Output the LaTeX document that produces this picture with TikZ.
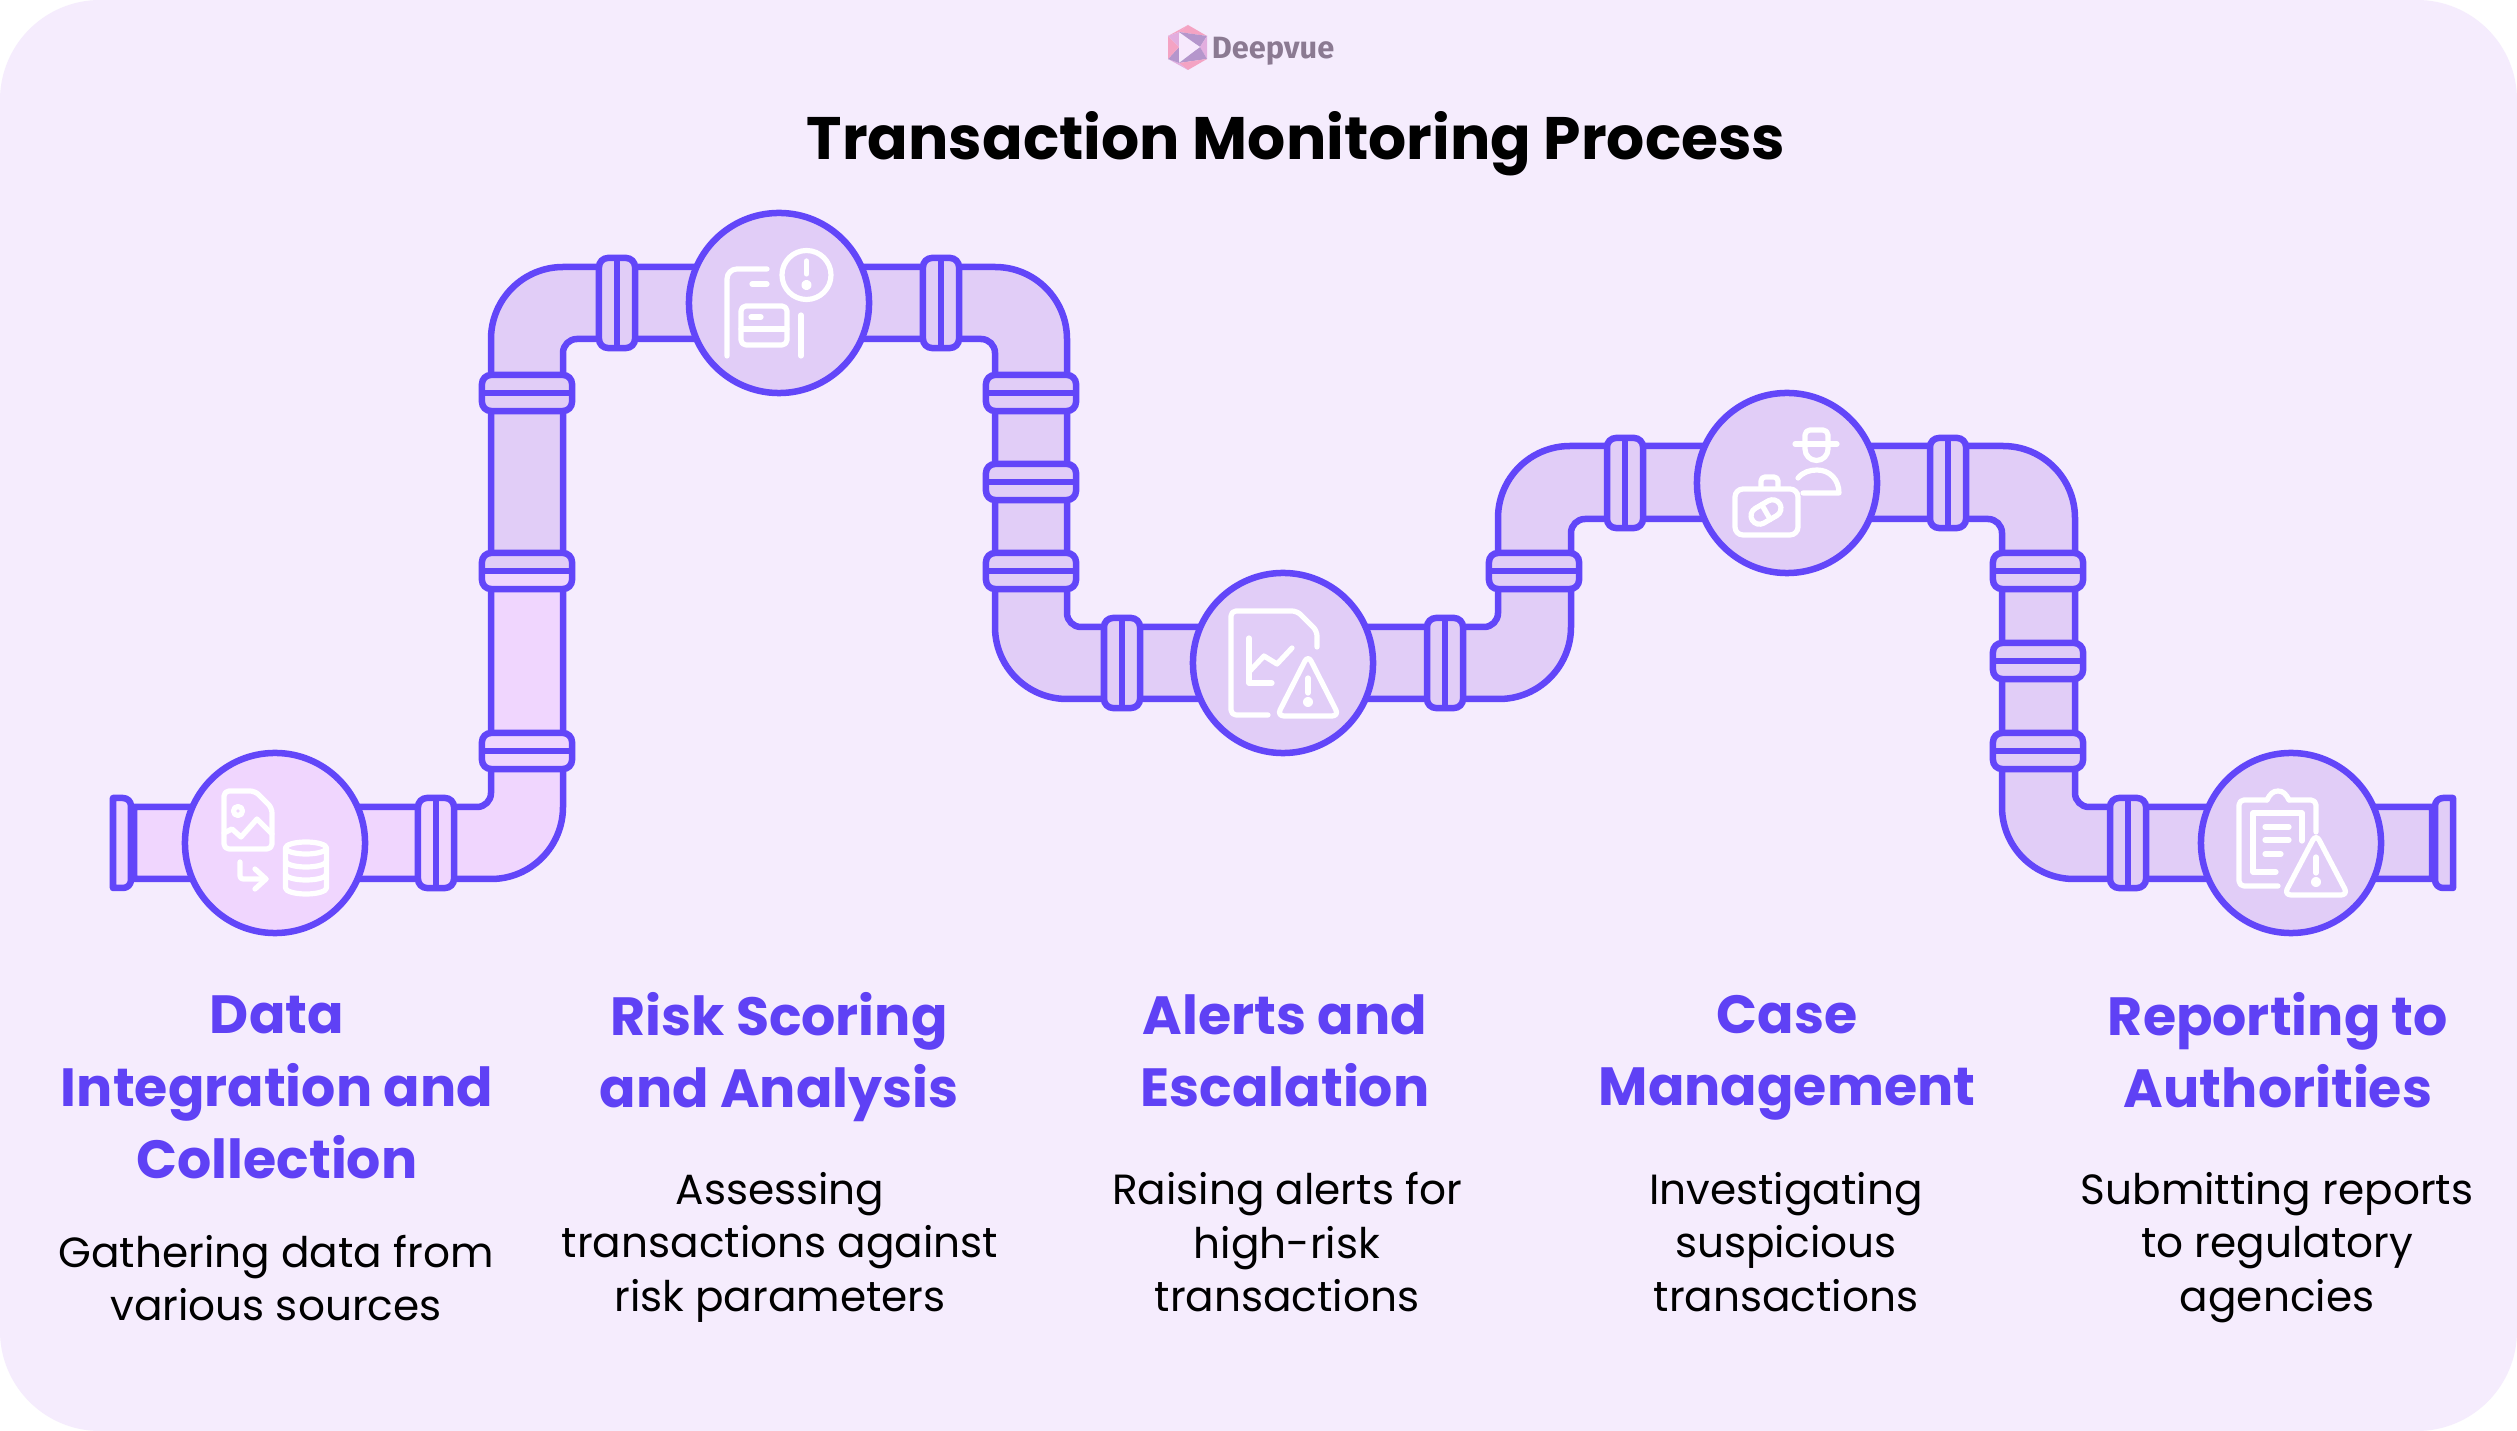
\documentclass[tikz,border=0pt]{standalone}
\usepackage{fontspec}
\setmainfont{Poppins}
\newfontfamily\logofont{Fira Sans}
\definecolor{cardbg}{HTML}{F5ECFD}
\definecolor{pipeline}{HTML}{6246F9}
\definecolor{pipefill}{HTML}{E1CDF7}
\definecolor{pipepink}{HTML}{F0D6FE}
\definecolor{headblue}{HTML}{5F41F5}
\definecolor{logogrey}{HTML}{8B7A92}
\definecolor{logopink}{HTML}{F4A3C3}
\definecolor{logolila}{HTML}{E2AEDF}
\definecolor{logopurple}{HTML}{B596CC}
\definecolor{logopale}{HTML}{F7E9FD}
\tikzset{
  flange/.style={rectangle,rounded corners=0.09cm,draw=pipeline,fill=pipefill,line width=0.065cm,inner sep=0pt,outer sep=0pt},
  flangeh/.style={flange,minimum width=0.36cm,minimum height=0.9cm},
  flangev/.style={flange,minimum width=0.9cm,minimum height=0.36cm},
  flangeline/.style={draw=pipeline,line width=0.065cm},
  valve/.style={circle,draw=pipeline,fill=pipefill,line width=0.065cm,minimum size=1.8cm,inner sep=0pt,outer sep=0pt},
  icon/.style={draw=white,line width=0.052cm,line cap=round,line join=round},
  heading/.style={align=center,text=headblue,font=\fontsize{15.3}{20.5}\selectfont\bfseries,execute at begin node=\strut,execute at end node=\strut},
  body/.style={align=center,text=black,font=\fontsize{12}{15.3}\selectfont,execute at begin node=\strut,execute at end node=\strut},
}
% outline of the whole pipe, upper edge first
\newcommand{\pipeoutline}{(134,807) -- (477,807) arc[start angle=90,end angle=0,radius=14]
  -- (491,339) arc[start angle=180,end angle=270,radius=72]
  -- (995,267) arc[start angle=270,end angle=360,radius=72]
  -- (1067,613) arc[start angle=180,end angle=90,radius=14]
  -- (1484,627) arc[start angle=90,end angle=0,radius=14]
  -- (1498,518) arc[start angle=180,end angle=270,radius=72]
  -- (2003,446) arc[start angle=270,end angle=360,radius=72]
  -- (2075,793) arc[start angle=180,end angle=90,radius=14]
  -- (2432,807) -- (2432,879)
  -- (2074,879) arc[start angle=90,end angle=180,radius=72]
  -- (2002,533) arc[start angle=0,end angle=-90,radius=14]
  -- (1585,519) arc[start angle=270,end angle=180,radius=14]
  -- (1571,627) arc[start angle=0,end angle=90,radius=72]
  -- (1067,699) arc[start angle=90,end angle=180,radius=72]
  -- (995,353) arc[start angle=0,end angle=-90,radius=14]
  -- (577,339) arc[start angle=270,end angle=180,radius=14]
  -- (563,807) arc[start angle=0,end angle=90,radius=72]
  -- (134,879) -- cycle}
\begin{document}
\begin{tikzpicture}[x=0.01cm,y=-0.01cm]
    \useasboundingbox (0,0) rectangle (2517,1431);

    % Card
    \fill[white] (0,0) rectangle (2517,1431);
    \fill[cardbg,rounded corners=1cm] (0,0) rectangle (2517,1431);

    % Logo
    \fill[logopink] (1188,25) -- (1207,36) -- (1179,32) -- cycle;
    \fill[logopink] (1188,25) -- (1168,36) -- (1179,32) -- cycle;
    \fill[logopurple] (1207,36) -- (1179,32) -- (1200,47) -- cycle;
    \fill[logolila] (1207,36) -- (1207,59) -- (1200,47) -- cycle;
    \fill[logopurple] (1207,59) -- (1200,47) -- (1179,63) -- cycle;
    \fill[logopink] (1207,59) -- (1188,70) -- (1179,63) -- cycle;
    \fill[logolila] (1188,70) -- (1168,59) -- (1179,63) -- cycle;
    \fill[logopurple] (1168,59) -- (1179,63) -- (1179,47) -- cycle;
    \fill[logopink] (1168,36) -- (1168,59) -- (1179,47) -- cycle;
    \fill[logolila] (1168,36) -- (1179,32) -- (1179,47) -- cycle;
    \fill[logopale] (1179,34) -- (1179,61) -- (1200,47) -- cycle;
    \node[text=logogrey,font=\logofont\fontsize{8.75}{11}\selectfont\bfseries] (logo) at (1273,51) {Deepvue};

    % Title
    \node[font=\fontsize{17.05}{20}\selectfont\bfseries] (title) at (1296,144) {Transaction Monitoring Process};

    % Pipe
    \fill[pipefill] \pipeoutline;
    \begin{scope}
      \clip (100,571) rectangle (600,950);
      \fill[pipepink] \pipeoutline;
    \end{scope}
    \draw[pipeline,line width=0.065cm] \pipeoutline;

    % Pipe ends
    \draw[pipeline,fill=pipepink,line width=0.065cm,line join=round] (113,798) -- (123,798) arc[start angle=270,end angle=360,radius=8] -- (131,880) arc[start angle=0,end angle=90,radius=8] -- (113,888) -- cycle;
    \draw[pipeline,fill=pipefill,line width=0.065cm,line join=round] (2453,798) -- (2443,798) arc[start angle=270,end angle=180,radius=8] -- (2435,880) arc[start angle=180,end angle=90,radius=8] -- (2453,888) -- cycle;

    % Flanges across the horizontal runs
    \foreach \fname/\fx/\fy/\ffill in {fa/436/843/pipepink,fb/617/303/pipefill,fc/941/303/pipefill,fd/1122/663/pipefill,fe/1445/663/pipefill,ff/1625/483/pipefill,fg/1948/483/pipefill,fh/2128/843/pipefill}{
      \node[flangeh,fill=\ffill] (\fname) at (\fx,\fy) {};
      \draw[flangeline] (\fname.north) -- (\fname.south);
    }
    % Flanges across the vertical runs
    \foreach \fname/\fx/\fy/\ffill in {va/527/751/pipepink,vc/527/393/pipefill,vd/1031/393/pipefill,ve/1031/482/pipefill,vf/1031/571/pipefill,vg/1534/571/pipefill,vh/2038/571/pipefill,vi/2038/661/pipefill,vj/2038/751/pipefill}{
      \node[flangev,fill=\ffill] (\fname) at (\fx,\fy) {};
      \draw[flangeline] (\fname.west) -- (\fname.east);
    }
    % This one joins the two colours
    \node[flangev,path picture={\fill[pipepink] (path picture bounding box.west) rectangle (path picture bounding box.south east);}] (vb) at (527,571) {};
    \draw[flangeline] (vb.west) -- (vb.east);

    % Valves
    \node[valve,fill=pipepink] (valvea) at (275,843) {};
    \node[valve] (valveb) at (779,303) {};
    \node[valve] (valvec) at (1283,663) {};
    \node[valve] (valved) at (1787,483) {};
    \node[valve] (valvee) at (2291,843) {};

    % Icon of valve a
    \draw[icon,rounded corners=0.05cm] (224,791) -- (255,791) -- (272,808) -- (272,849) -- (224,849) -- cycle;
    \draw[icon] (238,811) circle (4.5);
    \draw[icon] (224,833) -- (232,829) -- (241,837) -- (257,819) -- (272,834);
    \draw[icon,rounded corners=0.03cm] (240,862) -- (240,879) -- (266,879);
    \draw[icon] (255,869) -- (266,879) -- (255,889);
    \draw[icon] (306,848) ellipse [x radius=20.5,y radius=6];
    \draw[icon] (285.5,848) -- (285.5,888) arc[start angle=180,end angle=0,x radius=20.5,y radius=6] -- (326.5,848);
    \draw[icon] (285.5,861) arc[start angle=180,end angle=0,x radius=20.5,y radius=6];
    \draw[icon] (285.5,874) arc[start angle=180,end angle=0,x radius=20.5,y radius=6];

    % Icon of valve b
    \draw[icon,rounded corners=0.1cm] (727,356) -- (727,269) -- (767,269);
    \draw[icon] (752,284) -- (767,284);
    \draw[icon] (806.5,275) circle (24.5);
    \draw[icon] (806.5,261) -- (806.5,274);
    \draw[icon] (806.5,285) circle (2.5);
    \draw[icon,rounded corners=0.05cm] (741,306) rectangle (787,345);
    \draw[icon] (741,329) -- (787,329);
    \draw[icon] (751,317) -- (761,317);
    \draw[icon] (801,315) -- (801,356);

    % Icon of valve c
    \draw[icon,rounded corners=0.05cm] (1268,715) -- (1231,715) -- (1231,611) -- (1297,611) -- (1317,631) -- (1317,647);
    \draw[icon] (1249,638) -- (1249,683) -- (1272,683);
    \draw[icon] (1249,672) -- (1264,656) -- (1277,664) -- (1292,648);
    \draw[icon,rounded corners=0.07cm] (1308,655) -- (1339,716) -- (1277,716) -- cycle;
    \draw[icon] (1308,678) -- (1308,693);
    \draw[icon] (1308,702) circle (2.5);

    % Icon of valve d
    \draw[icon] (1795,444) -- (1837,444);
    \draw[icon,rounded corners=0.05cm] (1805,444) -- (1805,430) -- (1828,430) -- (1828,444);
    \draw[icon] (1805,444) -- (1805,449) arc[start angle=180,end angle=0,radius=11.5] -- (1828,444);
    \draw[icon] (1798,478) .. controls (1803,472) and (1810,470) .. (1817,470) .. controls (1830,470) and (1839,480) .. (1839,493) -- (1803,493);
    \draw[icon,rounded corners=0.08cm] (1735,489) rectangle (1798,535);
    \draw[icon,rounded corners=0.04cm] (1761,488) -- (1761,477) -- (1778,477) -- (1778,488);
    \begin{scope}[shift={(1766,512)},rotate=30]
      \draw[icon,rounded corners=0.085cm] (-16,-8.5) rectangle (16,8.5);
      \draw[icon] (0,-8.5) -- (0,8.5);
    \end{scope}

    % Icon of valve e
    \draw[icon,rounded corners=0.05cm] (2278,886) -- (2239,886) -- (2239,800) -- (2267,800);
    \draw[icon] (2267,800) .. controls (2270,794) and (2273,791) .. (2278,791) .. controls (2283,791) and (2286,794) .. (2289,800);
    \draw[icon,rounded corners=0.05cm] (2289,800) -- (2316,800) -- (2316,832);
    \draw[icon] (2276,872) -- (2253,872) -- (2253,813) -- (2302,813) -- (2302,841);
    \draw[icon] (2265,827) -- (2289,827);
    \draw[icon] (2265,840) -- (2289,840);
    \draw[icon] (2265,854) -- (2281,854);
    \draw[icon,rounded corners=0.07cm] (2316,834) -- (2348,895) -- (2284,895) -- cycle;
    \draw[icon] (2316,857) -- (2316,873);
    \draw[icon] (2316,882) circle (2.5);

    % Headings
    \node[heading] (heada) at (277,1098) {Data\\Integration and\\Collection};
    \node[heading] (headb) at (779,1061) {Risk Scoring\\and Analysis};
    \node[heading] (headc) at (1285,1061) {Alerts and\\Escalation};
    \node[heading] (headd) at (1787,1061) {Case\\Management};
    \node[heading] (heade) at (2278,1061) {Reporting to\\Authorities};

    % Descriptions
    \node[body] (bodya) at (276,1286) {Gathering data from\\various sources};
    \node[body] (bodyb) at (780,1250) {Assessing\\transactions against\\risk parameters};
    \node[body] (bodyc) at (1287,1250) {Raising alerts for\\high-risk\\transactions};
    \node[body] (bodyd) at (1786,1250) {Investigating\\suspicious\\transactions};
    \node[body] (bodye) at (2277,1250) {Submitting reports\\to regulatory\\agencies};

\end{tikzpicture}
\end{document}
